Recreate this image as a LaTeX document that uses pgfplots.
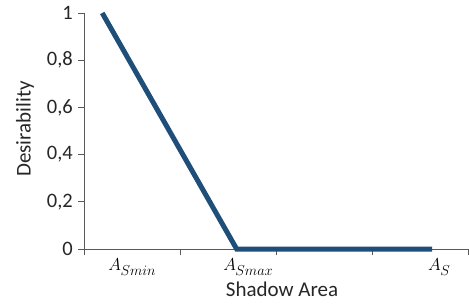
\documentclass[border=0pt]{standalone}
\usepackage{pgfplots}
\pgfplotsset{compat=1.18}
\usepackage{fontspec}
\setmainfont{Carlito}
\definecolor{linecol}{HTML}{1F4E79}
\definecolor{axcol}{HTML}{595959}
\newcommand{\sublab}[1]{\fontsize{18}{21}\selectfont$A$\kern-0.5pt\raisebox{-5pt}{\fontsize{14}{16}\selectfont$#1$}}
\begin{document}
\begin{tikzpicture}[x=1pt,y=1pt]
\path[use as bounding box] (0,0) rectangle (469,303);
\begin{axis}[
  at={(84pt,54pt)}, anchor=origin,
  scale only axis, width=384pt, height=236pt,
  xmin=0, xmax=4, ymin=0, ymax=1,
  axis lines=left, axis line style={-, draw=axcol, line width=0.9pt},
  xtick={0,1,2,3,4}, xticklabels={},
  ytick={0,0.2,0.4,0.6,0.8,1},
  tick align=outside, major tick length=6pt,
  tick style={draw=axcol, line width=0.9pt},
  /pgf/number format/use comma,
  /pgf/number format/assume math mode=true,
  yticklabel style={font=\fontsize{20.5}{24}\selectfont, text=black!85, inner sep=0pt, xshift=-5pt},
  clip=false,
]
\addplot[linecol, line width=5pt, line cap=butt, line join=miter] coordinates {(0.19,1) (1.59,0) (3.625,0)};
\end{axis}
\node[rotate=90, font=\fontsize{21}{24}\selectfont, text=black!85] at (25,174) {Desirability};
\node[font=\fontsize{21}{24}\selectfont, text=black!85] at (282,14) {Shadow Area};
\node[inner sep=0pt] at (132,36) {\sublab{Smin}};
\node[inner sep=0pt] at (248,36) {\sublab{Smax}};
\node[inner sep=0pt] at (439,36) {\sublab{S}};
\end{tikzpicture}
\end{document}
